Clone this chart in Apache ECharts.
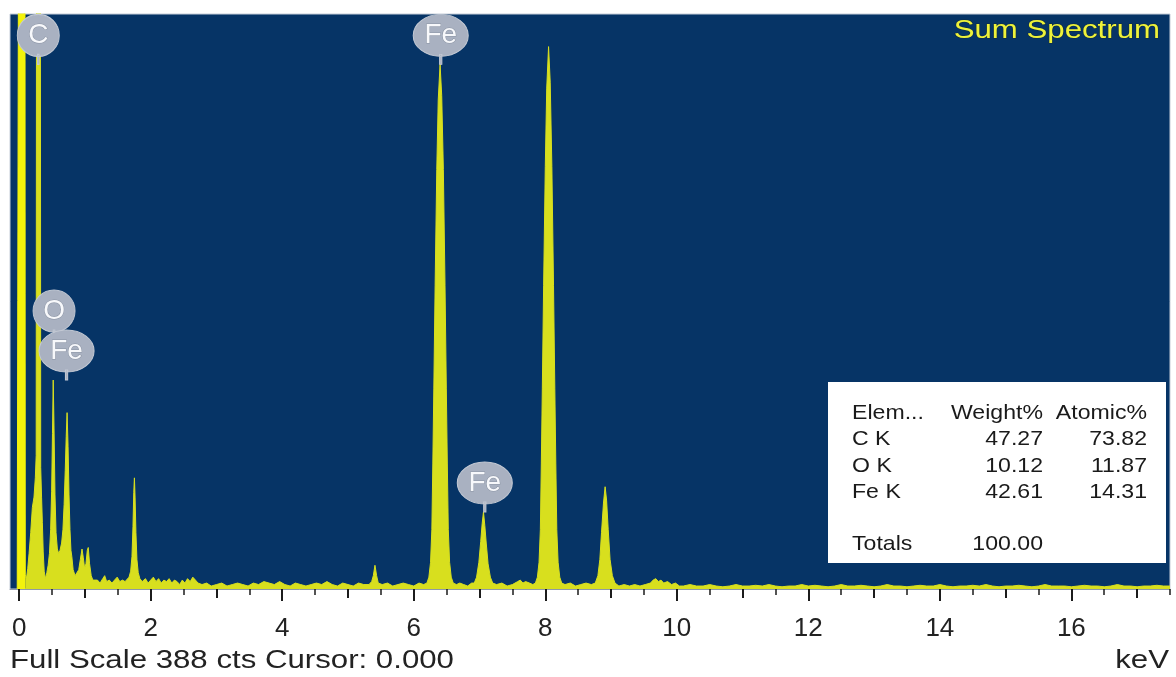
<!DOCTYPE html>
<html>
<head>
<meta charset="utf-8">
<script src="https://cdn.jsdelivr.net/npm/echarts@6/dist/echarts.min.js"></script>
<style>
  html, body { margin: 0; padding: 0; background: #ffffff; }
  #chart { width: 1176px; height: 677px; }
</style>
</head>
<body>
<div id="chart"></div>
<script>
// ---------------- data ----------------
const fullScaleCts = 388;
const cursorKeV = '0.000';
const keVMin = -0.14, keVMax = 17.5;

const tickLabels = [0, 2, 4, 6, 8, 10, 12, 14, 16];
const mediumTicks = [1, 3, 5, 7, 9, 11, 13, 15, 17];
const minorTicks = [0.5, 1.5, 2.5, 3.5, 4.5, 5.5, 6.5, 7.5, 8.5, 9.5, 10.5, 11.5, 12.5, 13.5, 14.5, 15.5, 16.5, 17.5];

// zero-energy (noise) peak, off scale
const zeroPeak = [[-0.03, 0], [-0.015, 0], [-0.012, 420], [0.088, 420], [0.092, 10]];

// [keV, counts]
const lowEnergy = [
  [0.092, 10], [0.11, 7], [0.13, 14], [0.15, 24], [0.175, 38], [0.20, 55], [0.225, 62], [0.245, 75], [0.258, 90],
  [0.263, 420], [0.322, 420], [0.327, 82], [0.34, 62], [0.352, 45], [0.365, 25], [0.38, 12], [0.40, 7],
  [0.42, 11], [0.44, 16], [0.46, 24], [0.478, 40], [0.493, 66], [0.506, 105], [0.517, 141], [0.529, 110],
  [0.544, 64], [0.56, 38], [0.58, 27], [0.60, 24], [0.62, 26],
  [0.645, 31], [0.665, 40], [0.683, 57], [0.70, 80], [0.715, 103], [0.728, 119], [0.743, 96], [0.757, 64],
  [0.772, 40], [0.787, 26], [0.80, 22], [0.82, 13], [0.85, 9],
  [0.88, 10], [0.905, 13], [0.93, 20], [0.955, 27], [0.975, 21], [0.995, 14], [1.015, 17], [1.035, 26],
  [1.05, 28], [1.07, 17], [1.095, 9], [1.12, 6]
];
const lowContinuum = [
  [1.15, 5], [1.19, 6], [1.23, 4], [1.27, 7], [1.30, 9], [1.33, 5], [1.37, 6], [1.41, 4], [1.45, 6],
  [1.49, 8], [1.53, 5], [1.57, 6], [1.61, 5], [1.64, 6]
];
const siPeak = [
  [1.67, 8], [1.695, 12], [1.715, 22], [1.73, 42], [1.742, 65], [1.752, 75], [1.762, 62], [1.775, 38],
  [1.79, 20], [1.81, 11], [1.835, 7]
];
const midContinuum = [
  [1.87, 5], [1.92, 7], [1.96, 4], [2.0, 6], [2.04, 8], [2.08, 5], [2.12, 7], [2.16, 4], [2.2, 6], [2.24, 5],
  [2.28, 7], [2.32, 4], [2.36, 6], [2.4, 5], [2.44, 3], [2.48, 6], [2.52, 4], [2.56, 7], [2.6, 5], [2.64, 8],
  [2.68, 6], [2.72, 4], [2.78, 3], [2.85, 4], [2.92, 2], [3.0, 3], [3.08, 4], [3.16, 2], [3.24, 3], [3.32, 4],
  [3.4, 3], [3.48, 2], [3.56, 4], [3.64, 3], [3.72, 5], [3.8, 4], [3.88, 3], [3.96, 5], [4.04, 3], [4.12, 2],
  [4.2, 4], [4.28, 3], [4.36, 2], [4.44, 3], [4.52, 4], [4.6, 3], [4.68, 5], [4.76, 3], [4.84, 2], [4.92, 4],
  [5.0, 3], [5.08, 2], [5.16, 4], [5.24, 3], [5.32, 3]
];
const peak541 = [[5.36, 5], [5.385, 9], [5.41, 16], [5.435, 9], [5.46, 4]];
const preFe = [[5.52, 3], [5.6, 4], [5.68, 2], [5.76, 3], [5.84, 4], [5.92, 3], [6.0, 2], [6.08, 4], [6.15, 3]];
const feKa = [
  [6.20, 4], [6.23, 8], [6.255, 18], [6.275, 40], [6.29, 85], [6.305, 135], [6.325, 205], [6.35, 283],
  [6.372, 330], [6.40, 354], [6.425, 333], [6.45, 283], [6.475, 205], [6.495, 135], [6.51, 85], [6.525, 40],
  [6.545, 18], [6.57, 8], [6.60, 4]
];
const betweenFe = [[6.65, 3], [6.7, 4], [6.76, 3], [6.82, 2], [6.88, 4]];
const feKb = [
  [6.92, 4], [6.955, 8], [6.99, 18], [7.018, 32], [7.04, 44], [7.06, 52], [7.08, 43], [7.102, 31], [7.13, 17],
  [7.165, 8], [7.2, 4]
];
const preCu = [[7.26, 3], [7.34, 4], [7.42, 2], [7.5, 3], [7.58, 5], [7.62, 6], [7.66, 4], [7.7, 5], [7.76, 4], [7.81, 3]];
const cuKa = [
  [7.85, 4], [7.88, 8], [7.905, 18], [7.925, 40], [7.94, 85], [7.955, 135], [7.975, 205], [8.0, 285],
  [8.022, 338], [8.05, 366], [8.075, 342], [8.10, 285], [8.125, 205], [8.145, 135], [8.16, 85], [8.175, 40],
  [8.195, 18], [8.22, 8], [8.25, 4]
];
const betweenCu = [[8.3, 3], [8.38, 4], [8.46, 2], [8.54, 3], [8.62, 4], [8.7, 3]];
const cuKb = [
  [8.76, 4], [8.80, 9], [8.83, 20], [8.855, 38], [8.885, 58], [8.91, 69], [8.932, 60], [8.957, 40], [8.985, 20],
  [9.02, 9], [9.06, 4]
];
const postCu = [
  [9.12, 2], [9.2, 3], [9.28, 2], [9.36, 3], [9.44, 2], [9.52, 3], [9.6, 4], [9.64, 6], [9.68, 7], [9.72, 5],
  [9.76, 6], [9.8, 4], [9.86, 5], [9.92, 3], [9.98, 4], [10.04, 2]
];
// channels every 0.1 keV from 10.1 to 17.5 keV
const highStartKeV = 10.1, highStepKeV = 0.1;
const highBackground = [
  2, 3, 2, 2, 3, 2, 1.5, 2, 3, 2,
  2, 2.5, 2, 3, 2, 1.5, 2, 2, 3, 2,
  2.5, 2, 1.5, 2, 3, 2, 2, 2.5, 2, 1.5,
  2, 3, 2, 2, 1.5, 2, 2.5, 2, 2, 3,
  2, 1.5, 2, 2, 2.5, 2, 3, 2, 1.5, 2,
  2, 2.5, 2, 1.5, 2, 3, 2, 2, 2, 1.5,
  2, 2.5, 2, 2, 1.5, 2, 3, 2, 2, 1.5,
  2, 2, 2.5, 2, 2
];

// element markers: [label, keV, counts at pin tip]
const elementLabels = [
  ['C', 0.29, 354],
  ['O', 0.53, 168],
  ['Fe', 0.72, 141],
  ['Fe', 6.41, 354],
  ['Fe', 7.08, 52]
];

// quantification table
const tableHeader = ['Elem...', 'Weight%', 'Atomic%'];
const tableRows = [
  ['C K', '47.27', '73.82'],
  ['O K', '10.12', '11.87'],
  ['Fe K', '42.61', '14.31']
];
const tableTotals = ['Totals', '100.00'];
const spectrumTitle = 'Sum Spectrum';
const axisUnit = 'keV';

// ---------------- build ----------------
const highPairs = highBackground.map((v, i) => [+(highStartKeV + i * highStepKeV).toFixed(2), v]);
const spectrum = [].concat(lowEnergy, lowContinuum, siPeak, midContinuum, peak541, preFe, feKa, betweenFe,
  feKb, preCu, cuKa, betweenCu, cuKb, postCu, highPairs);

const NAVY = '#063466';
const FILL = '#d8df1e';
const BRIGHT = '#f3f30c';
const TEXT = '#222222';
const FONT = 'Arial, "Liberation Sans", sans-serif';

const bubblePath = 'path://M0,42 A50,42 0 1,1 100,42 A50,42 0 1,1 0,42 Z M48,80 L52,80 L52,100 L48,100 Z';

const chart = echarts.init(document.getElementById('chart'), null, { renderer: 'canvas' });

const axisBase = {
  type: 'value', min: keVMin, max: keVMax, gridIndex: 0, position: 'bottom',
  splitLine: { show: false }
};

const textEl = (txt, x, y, align, size, scaleX, fill, extra) => Object.assign({
  type: 'text', x: x, y: y, scaleX: scaleX, z: 100,
  style: { text: txt, font: size + 'px ' + FONT, fill: fill, align: align, verticalAlign: 'middle' }
}, extra || {});

const tableCols = [852, 1043, 1147];
const tableAligns = ['left', 'right', 'right'];
const rowY = [413, 439, 466, 492];
const tableTexts = [];
[tableHeader].concat(tableRows).forEach((row, r) => {
  row.forEach((cell, c) => tableTexts.push(textEl(cell, tableCols[c], rowY[r], tableAligns[c], 21, 1.1, '#1a1a1a')));
});
tableTotals.forEach((cell, c) => tableTexts.push(textEl(cell, tableCols[c], 544, tableAligns[c], 21, 1.1, '#1a1a1a')));

const option = {
  animation: false,
  backgroundColor: '#ffffff',
  grid: {
    left: 10, right: 6, top: 14, bottom: 88,
    show: true, backgroundColor: NAVY, borderColor: '#c5cdd8', borderWidth: 1
  },
  xAxis: [
    Object.assign({}, axisBase, {
      axisLine: { show: true, onZero: false, lineStyle: { color: '#8f9aa8', width: 1 } },
      axisTick: { show: true, customValues: tickLabels, length: 12, lineStyle: { color: '#1c1c1c', width: 2 } },
      axisLabel: { show: true, customValues: tickLabels, margin: 27, fontSize: 26, color: TEXT, fontFamily: FONT }
    }),
    Object.assign({}, axisBase, {
      axisLine: { show: false },
      axisTick: { show: true, customValues: mediumTicks, length: 9, lineStyle: { color: '#1c1c1c', width: 2 } },
      axisLabel: { show: false }
    }),
    Object.assign({}, axisBase, {
      axisLine: { show: false },
      axisTick: { show: true, customValues: minorTicks, length: 6, lineStyle: { color: '#1c1c1c', width: 1.5 } },
      axisLabel: { show: false }
    })
  ],
  yAxis: { type: 'value', min: 0, max: fullScaleCts, show: false, splitLine: { show: false } },
  series: [
    {
      type: 'line', xAxisIndex: 0, data: spectrum, showSymbol: false, symbol: 'none', clip: true, silent: true,
      lineStyle: { color: FILL, width: 1 }, areaStyle: { color: FILL, opacity: 1 }, z: 2
    },
    {
      type: 'line', xAxisIndex: 0, data: zeroPeak, showSymbol: false, symbol: 'none', clip: true, silent: true,
      lineStyle: { color: BRIGHT, width: 1 }, areaStyle: { color: BRIGHT, opacity: 1 }, z: 3
    },
    {
      type: 'scatter', xAxisIndex: 0, silent: true, z: 5,
      symbolOffset: [0, '-50%'],
      data: elementLabels.map(d => ({
        name: d[0], value: [d[1], d[2]], symbol: bubblePath,
        symbolSize: [d[0].length > 1 ? 55 : 42, 50]
      })),
      itemStyle: { color: '#a9b1c1', borderColor: '#c2c8d3', borderWidth: 1, opacity: 1 },
      label: {
        show: true, position: 'inside', formatter: '{b}', offset: [0, -4],
        color: '#f7f8fb', fontSize: 28, fontFamily: FONT,
        textBorderColor: '#8c95a5', textBorderWidth: 1
      }
    }
  ],
  graphic: [
    textEl(spectrumTitle, 1160, 31, 'right', 26, 1.2, '#eef23a',
      { style: { text: spectrumTitle, font: '26px ' + FONT, fill: '#eef23a', align: 'right', verticalAlign: 'middle',
        stroke: 'rgba(30,40,30,0.55)', lineWidth: 1 } }),
    { type: 'rect', z: 99, shape: { x: 828, y: 382, width: 338, height: 181 }, style: { fill: '#ffffff' } }
  ].concat(tableTexts, [
    textEl('Full Scale ' + fullScaleCts + ' cts Cursor: ' + cursorKeV, 10, 661, 'left', 26, 1.2, TEXT),
    textEl(axisUnit, 1169, 661, 'right', 26, 1.2, TEXT)
  ])
};
chart.setOption(option);
</script>
</body>
</html>
